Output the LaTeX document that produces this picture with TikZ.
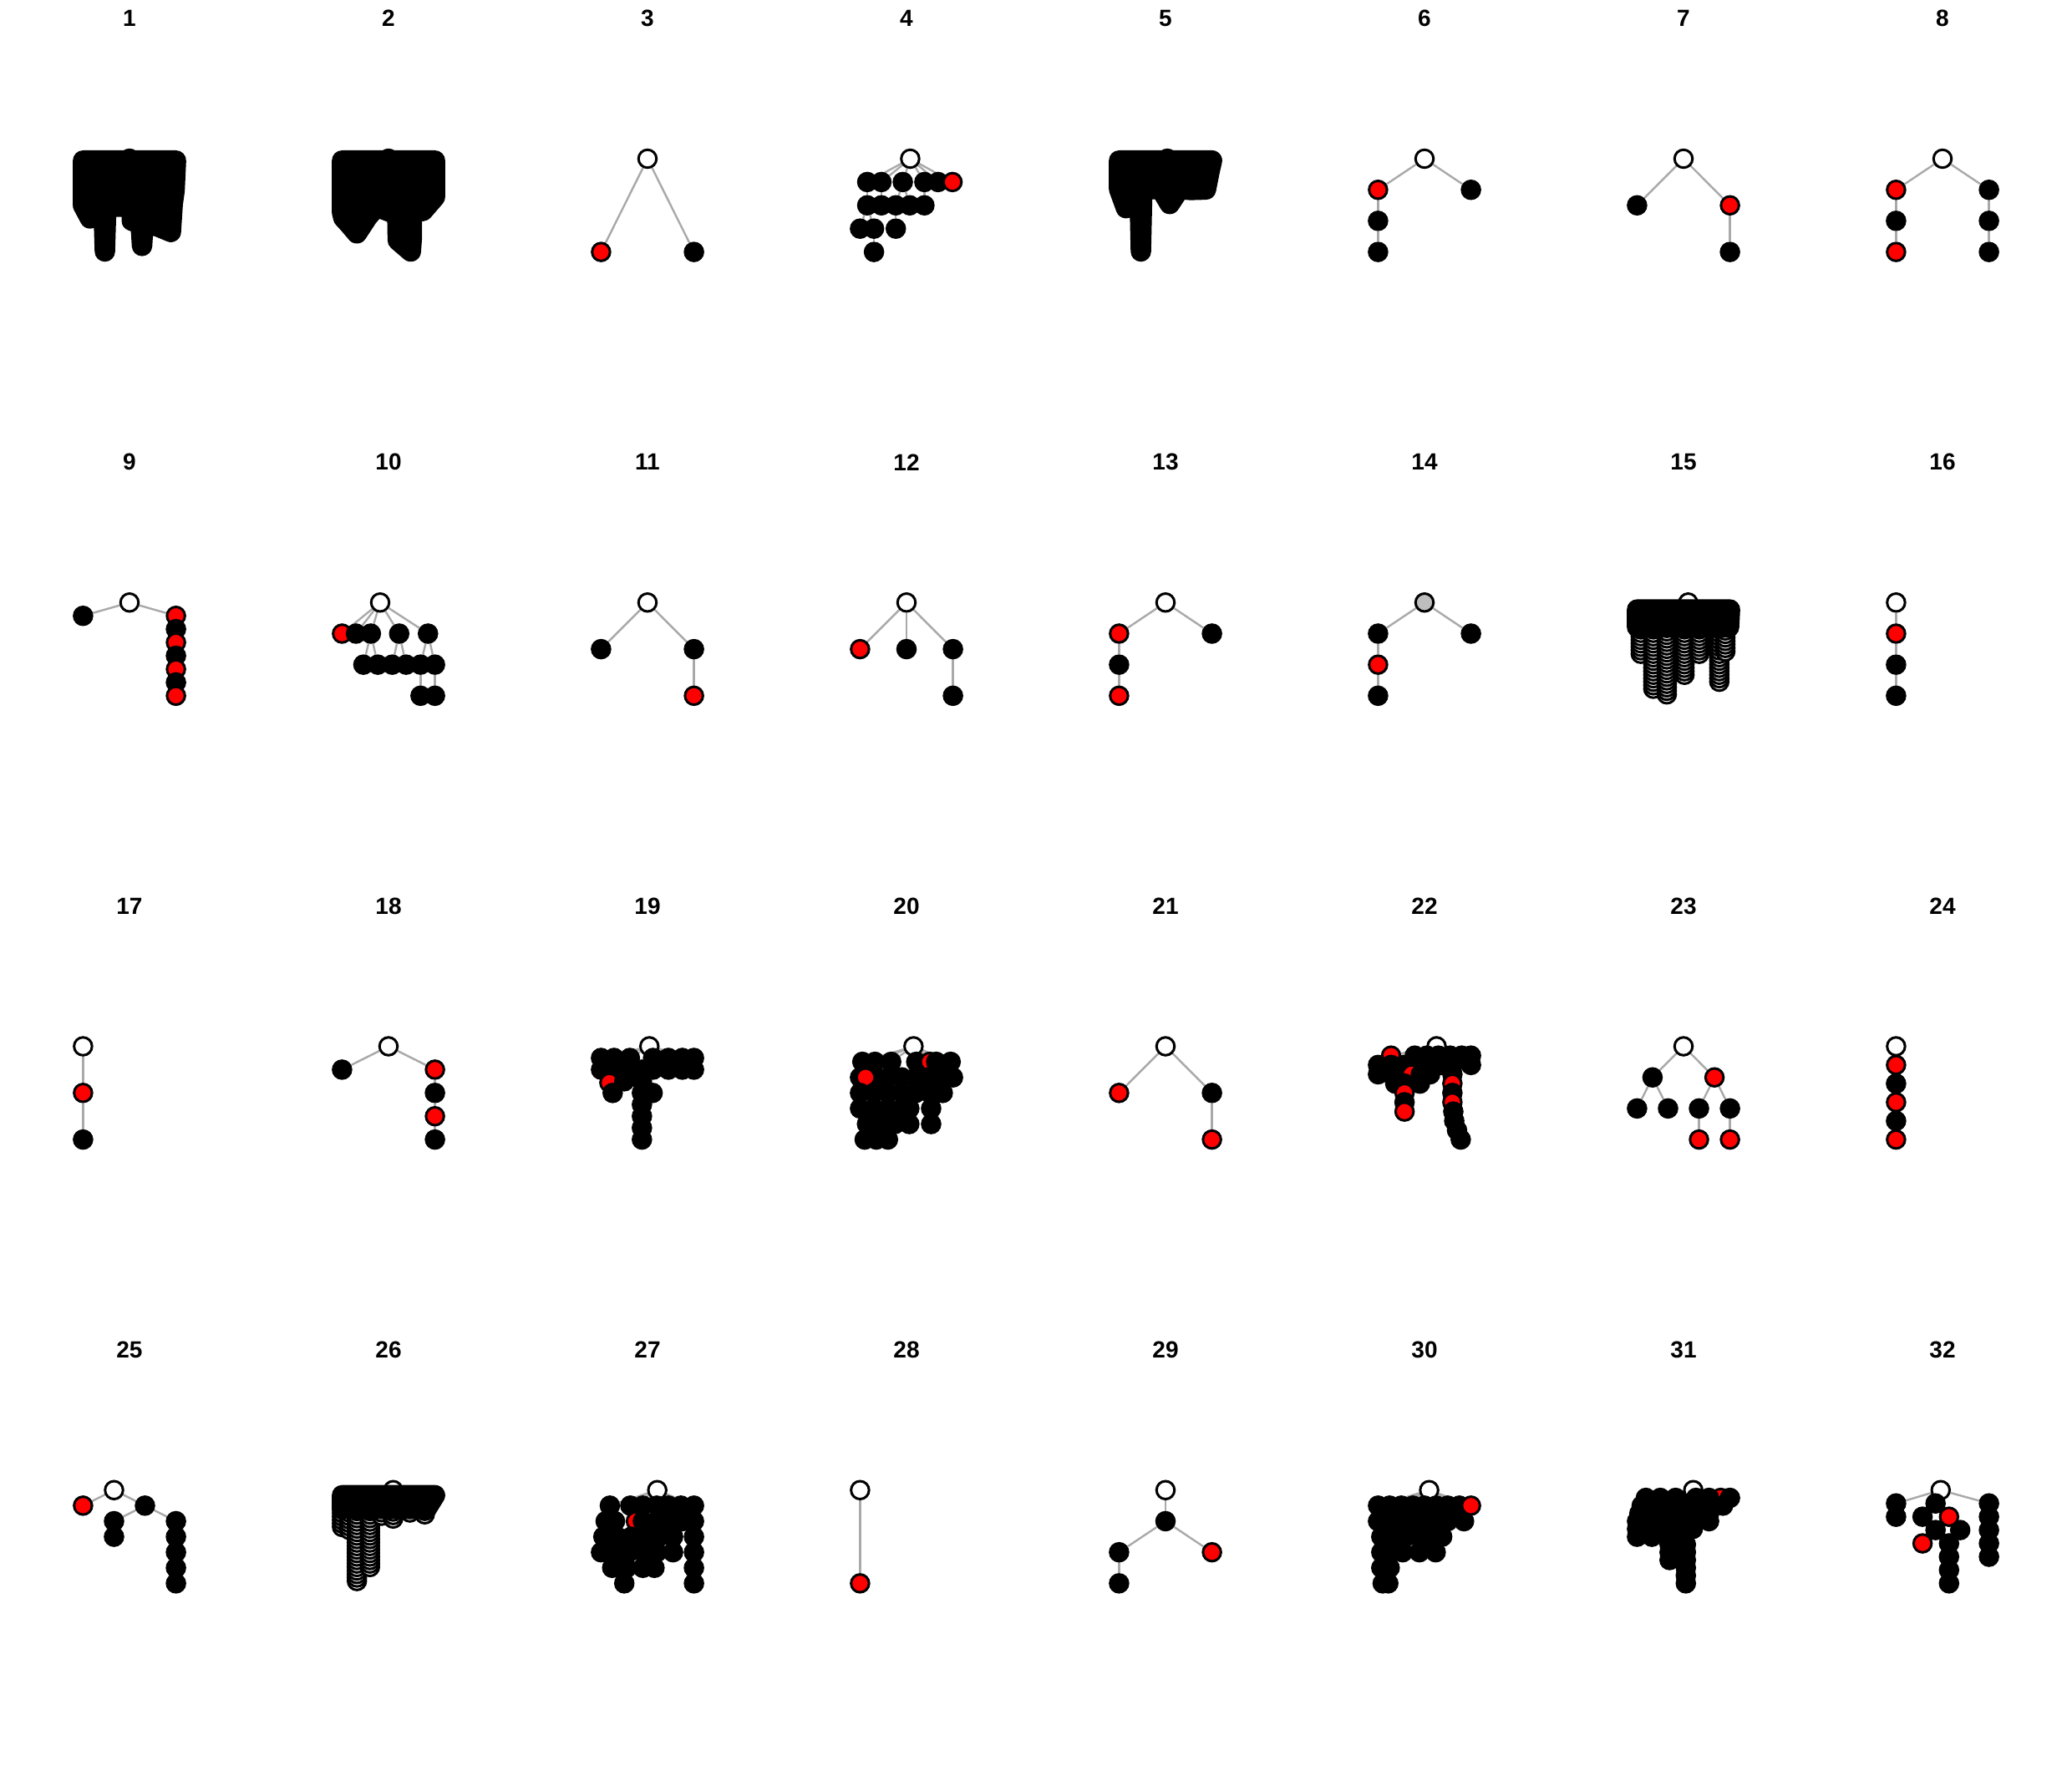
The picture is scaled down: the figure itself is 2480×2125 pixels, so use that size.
\documentclass[tikz,border=0pt]{standalone}
\usepackage{fontspec}
\newfontfamily\ttlfont{Liberation Sans}
\pgfdeclarelayer{bglayer}
\pgfdeclarelayer{edgelayer}
\pgfsetlayers{bglayer,edgelayer,main}
\definecolor{Rred}{HTML}{FF0000}
\definecolor{Rgray}{HTML}{BEBEBE}
\definecolor{Redge}{HTML}{A9A9A9}
\tikzset{
  vtx/.style={circle,draw=black,line width=3pt,inner sep=0pt,minimum size=21.5pt},
  vb/.style={vtx,fill=black},
  vr/.style={vtx,fill=Rred},
  vw/.style={vtx,fill=white},
  vg/.style={vtx,fill=Rgray},
  edg/.style={draw=Redge,line width=2.4pt},
  blobst/.style={fill=black,draw=black,line width=24.5pt,line join=round,line cap=round},
  ttl/.style={font=\ttlfont\bfseries\fontsize{28}{32}\selectfont,inner sep=0pt},
  panel/.style={x=55.6pt,y=55.8pt}
}
\newcount\ringc
\newcommand\vnd[4]{\node[#1] (#2) at (#3,#4) {};}
\newcommand\vrow[4]{\foreach \uu [count=\ii] in {#4} {\node[#1] (#2\ii) at (\uu,#3) {};}}
\newcommand\edgs[1]{\begin{pgfonlayer}{edgelayer}\foreach \ea/\eb in {#1} {\draw[edg] (\ea) -- (\eb);}\end{pgfonlayer}}
\newcommand\vfan[3]{\begin{pgfonlayer}{edgelayer}\foreach \ii in {1,...,#3} {\draw[edg] (#1) -- (#2\ii);}\end{pgfonlayer}}
\newcommand\ringcol[3]{%
  \pgfmathtruncatemacro\rn{round((#3-(#2))/0.075)}%
  \foreach \kk in {0,...,\rn}{%
    \pgfmathsetmacro\vv{#2+\kk*0.075}%
    \global\advance\ringc by 1
    \node[vw] (ring\the\ringc) at (#1,\vv) {};}}
\begin{document}
\begin{tikzpicture}[x=1pt,y=-1pt]
\useasboundingbox (0,0) rectangle (2480,2125);
\begin{pgfonlayer}{bglayer}\fill[white] (0,0) rectangle (2480,2125);\end{pgfonlayer}
% titles
\foreach \n in {1,...,32} {
  \pgfmathsetmacro\cx{155+310*mod(\n-1,8)}
  \pgfmathsetmacro\cy{22+531.25*floor((\n-1)/8)}
  \node[ttl] (t\n) at (\cx,\cy) {\n};
}
% ---------- row 1 ----------
\begin{scope}[shift={(155,245.8)},panel]
\vnd{vw}{p1r}{0}{1}
\filldraw[blobst] (-1,0.96) -- (1,0.96) -- (0.97,0.32) -- (0.93,0.03) -- (0.89,-0.57) -- (0.6,-0.45) -- (0.3,-0.4) -- (0.27,-0.87) -- (0.24,-0.4) -- (0.05,-0.33) -- (0.05,-0.03) -- (-0.5,-0.03) -- (-0.53,-0.99) -- (-0.56,-0.03) -- (-0.75,-0.1) -- (-0.85,-0.28) -- (-1,0.0) -- cycle;
\end{scope}
\begin{scope}[shift={(465,245.8)},panel]
\vnd{vw}{p2r}{0}{1}
\filldraw[blobst] (-1,0.96) -- (1,0.96) -- (1,0.18) -- (0.74,-0.12) -- (0.5,-0.15) -- (0.5,-0.72) -- (0.48,-0.99) -- (0.2,-0.75) -- (0.19,-0.2) -- (-0.26,-0.03) -- (-0.45,-0.25) -- (-0.68,-0.6) -- (-0.85,-0.4) -- (-0.97,-0.27) -- (-1,-0.15) -- cycle;
\end{scope}
\begin{scope}[shift={(775,245.8)},panel]
\vnd{vw}{p3r}{0}{1}
\vnd{vr}{p3a}{-1}{-1}
\vnd{vb}{p3b}{1}{-1}
\edgs{p3r/p3a,p3r/p3b}
\end{scope}
\begin{scope}[shift={(1085,245.8)},panel]
\vnd{vw}{p4r}{0.08}{1}
\vnd{vb}{p4a1}{-0.845}{0.5}
\vnd{vb}{p4a2}{-0.54}{0.5}
\vnd{vb}{p4a3}{-0.08}{0.5}
\vnd{vb}{p4a4}{0.385}{0.5}
\vnd{vb}{p4a5}{0.68}{0.5}
\vnd{vr}{p4a6}{0.99}{0.5}
\vnd{vb}{p4b1}{-0.845}{0}
\vnd{vb}{p4b2}{-0.54}{0}
\vnd{vb}{p4b3}{-0.23}{0}
\vnd{vb}{p4b4}{0.07}{0}
\vnd{vb}{p4b5}{0.385}{0}
\vnd{vb}{p4c1}{-1}{-0.5}
\vnd{vb}{p4c2}{-0.7}{-0.5}
\vnd{vb}{p4c3}{-0.23}{-0.5}
\vnd{vb}{p4d1}{-0.7}{-1}
\edgs{p4r/p4a1,p4r/p4a2,p4r/p4a3,p4r/p4a4,p4r/p4a5,p4r/p4a6,p4a1/p4b1,p4a2/p4b2,p4a3/p4b3,p4a3/p4b4,p4a4/p4b5,p4b1/p4c1,p4b1/p4c2,p4b3/p4c3,p4c2/p4d1}
\end{scope}
\begin{scope}[shift={(1395,245.8)},panel]
\vnd{vw}{p5r}{0.04}{1}
\filldraw[blobst] (-1,0.96) -- (1,0.96) -- (0.95,0.74) -- (0.87,0.34) -- (0.54,0.33) -- (0.3,0.35) -- (0.09,0.03) -- (-0.1,0.35) -- (-0.5,0.35) -- (-0.53,-0.99) -- (-0.56,0.35) -- (-0.7,0.3) -- (-0.85,-0.06) -- (-1,0.35) -- cycle;
\end{scope}
\begin{scope}[shift={(1705,245.8)},panel]
\vnd{vw}{p6r}{0}{1}
\vnd{vr}{p6a}{-1}{0.333}
\vnd{vb}{p6b}{1}{0.333}
\vnd{vb}{p6c}{-1}{-0.333}
\vnd{vb}{p6d}{-1}{-1}
\edgs{p6r/p6a,p6r/p6b,p6a/p6c,p6c/p6d}
\end{scope}
\begin{scope}[shift={(2015,245.8)},panel]
\vnd{vw}{p7r}{0}{1}
\vnd{vb}{p7a}{-1}{0}
\vnd{vr}{p7b}{1}{0}
\vnd{vb}{p7c}{1}{-1}
\edgs{p7r/p7a,p7r/p7b,p7b/p7c}
\end{scope}
\begin{scope}[shift={(2325,245.8)},panel]
\vnd{vw}{p8r}{0}{1}
\vnd{vr}{p8a}{-1}{0.333}
\vnd{vb}{p8c}{-1}{-0.333}
\vnd{vr}{p8e}{-1}{-1}
\vnd{vb}{p8b}{1}{0.333}
\vnd{vb}{p8d}{1}{-0.333}
\vnd{vb}{p8f}{1}{-1}
\edgs{p8r/p8a,p8a/p8c,p8c/p8e,p8r/p8b,p8b/p8d,p8d/p8f}
\end{scope}
% ---------- row 2 ----------
\begin{scope}[shift={(155,777.05)},panel]
\vnd{vw}{p9r}{0}{1}
\vnd{vb}{p9a}{-1}{0.714}
\vnd{vr}{p9b1}{1}{0.714}
\vnd{vb}{p9b2}{1}{0.429}
\vnd{vr}{p9b3}{1}{0.143}
\vnd{vb}{p9b4}{1}{-0.143}
\vnd{vr}{p9b5}{1}{-0.429}
\vnd{vb}{p9b6}{1}{-0.714}
\vnd{vr}{p9b7}{1}{-1}
\edgs{p9r/p9a,p9r/p9b1,p9b1/p9b2,p9b2/p9b3,p9b3/p9b4,p9b4/p9b5,p9b5/p9b6,p9b6/p9b7}
\end{scope}
\begin{scope}[shift={(465,777.05)},panel]
\vnd{vw}{p10r}{-0.18}{1}
\vnd{vr}{p10a}{-1}{0.333}
\vnd{vb}{p10b}{-0.7}{0.333}
\vnd{vb}{p10c}{-0.38}{0.333}
\vnd{vb}{p10d}{0.23}{0.333}
\vnd{vb}{p10e}{0.85}{0.333}
\vnd{vb}{p10f}{-0.54}{-0.333}
\vnd{vb}{p10g}{-0.23}{-0.333}
\vnd{vb}{p10h}{0.08}{-0.333}
\vnd{vb}{p10i}{0.38}{-0.333}
\vnd{vb}{p10j}{0.69}{-0.333}
\vnd{vb}{p10k}{1}{-0.333}
\vnd{vb}{p10l}{0.69}{-1}
\vnd{vb}{p10m}{1}{-1}
\edgs{p10r/p10a,p10r/p10b,p10r/p10c,p10r/p10d,p10r/p10e,p10c/p10f,p10c/p10g,p10d/p10h,p10d/p10i,p10e/p10j,p10e/p10k,p10j/p10l,p10k/p10m}
\end{scope}
\begin{scope}[shift={(775,777.05)},panel]
\vnd{vw}{p11r}{0}{1}
\vnd{vb}{p11a}{-1}{0}
\vnd{vb}{p11b}{1}{0}
\vnd{vr}{p11c}{1}{-1}
\edgs{p11r/p11a,p11r/p11b,p11b/p11c}
\end{scope}
\begin{scope}[shift={(1085,777.05)},panel]
\vnd{vw}{p12r}{0}{1}
\vnd{vr}{p12a}{-1}{0}
\vnd{vb}{p12b}{0}{0}
\vnd{vb}{p12c}{1}{0}
\vnd{vb}{p12d}{1}{-1}
\edgs{p12r/p12a,p12r/p12b,p12r/p12c,p12c/p12d}
\end{scope}
\begin{scope}[shift={(1395,777.05)},panel]
\vnd{vw}{p13r}{0}{1}
\vnd{vr}{p13a}{-1}{0.333}
\vnd{vb}{p13b}{1}{0.333}
\vnd{vb}{p13c}{-1}{-0.333}
\vnd{vr}{p13d}{-1}{-1}
\edgs{p13r/p13a,p13r/p13b,p13a/p13c,p13c/p13d}
\end{scope}
\begin{scope}[shift={(1705,777.05)},panel]
\vnd{vg}{p14r}{0}{1}
\vnd{vb}{p14a}{-1}{0.333}
\vnd{vb}{p14b}{1}{0.333}
\vnd{vr}{p14c}{-1}{-0.333}
\vnd{vb}{p14d}{-1}{-1}
\edgs{p14r/p14a,p14r/p14b,p14a/p14c,p14c/p14d}
\end{scope}
\begin{scope}[shift={(2015,777.05)},panel]
\vnd{vw}{p15r}{0.1}{1}
\ringcol{-0.92}{-0.1}{0.5}
\ringcol{-0.65}{-0.85}{0.5}
\ringcol{-0.36}{-0.97}{0.5}
\ringcol{0.02}{-0.55}{0.5}
\ringcol{0.34}{-0.1}{0.5}
\ringcol{0.77}{-0.7}{0.5}
\ringcol{0.9}{-0.05}{0.5}
\filldraw[blobst] (-1,0.85) -- (1,0.85) -- (0.98,0.47) -- (-1,0.47) -- cycle;
\end{scope}
\begin{scope}[shift={(2325,777.05)},panel]
\vnd{vw}{p16r}{-1}{1}
\vnd{vr}{p16a}{-1}{0.333}
\vnd{vb}{p16b}{-1}{-0.333}
\vnd{vb}{p16c}{-1}{-1}
\edgs{p16r/p16a,p16a/p16b,p16b/p16c}
\end{scope}
% ---------- row 3 ----------
\begin{scope}[shift={(155,1308.3)},panel]
\vnd{vw}{p17r}{-1}{1}
\vnd{vr}{p17a}{-1}{0}
\vnd{vb}{p17b}{-1}{-1}
\edgs{p17r/p17a,p17a/p17b}
\end{scope}
\begin{scope}[shift={(465,1308.3)},panel]
\vnd{vw}{p18r}{0}{1}
\vnd{vb}{p18a}{-1}{0.5}
\vnd{vr}{p18b}{1}{0.5}
\vnd{vb}{p18c}{1}{0}
\vnd{vr}{p18d}{1}{-0.5}
\vnd{vb}{p18e}{1}{-1}
\edgs{p18r/p18a,p18r/p18b,p18b/p18c,p18c/p18d,p18d/p18e}
\end{scope}
\begin{scope}[shift={(775,1308.3)},panel]
\vnd{vw}{p19r}{0.04}{1}
\vrow{vb}{p19a}{0.75}{-1.0,-0.72,-0.38,0.12,0.45,0.75,1.0}
\vrow{vb}{p19b}{0.5}{-1.0,-0.72,-0.38,-0.12,0.12,0.45,0.75,1.0}
\vnd{vr}{p19c0}{-0.82}{0.22}
\vrow{vb}{p19c}{0.25}{-0.5,-0.12}
\vrow{vb}{p19d}{0}{-0.75,-0.12,0.11}
\vrow{vb}{p19e}{-0.25}{-0.12}
\vrow{vb}{p19f}{-0.5}{-0.12}
\vrow{vb}{p19g}{-0.75}{-0.12}
\vrow{vb}{p19h}{-1}{-0.12}
\vfan{p19r}{p19a}{7}
\end{scope}
\begin{scope}[shift={(1085,1308.3)},panel]
\vnd{vw}{p20r}{0.15}{1}
\vrow{vb}{p20a}{0.667}{-0.95,-0.68,-0.33,0.21}
\vnd{vr}{p20a5}{0.5}{0.667}
\vrow{vb}{p20x}{0.667}{0.64,0.95}
\vrow{vb}{p20b}{0.333}{-1.0,-0.68,-0.4,-0.1,0.2,0.45,0.7,1.0}
\vnd{vr}{p20b0}{-0.88}{0.333}
\vrow{vb}{p20c}{0}{-1.0,-0.7,-0.4,-0.1,0.2,0.5,0.78}
\vrow{vb}{p20d}{-0.333}{-1.0,-0.7,-0.4,-0.1,0.06,0.53}
\vrow{vb}{p20e}{-0.667}{-0.85,-0.55,-0.25,0.06,0.53}
\vrow{vb}{p20f}{-1}{-0.9,-0.65,-0.4}
\vfan{p20r}{p20a}{5}
\vfan{p20r}{p20x}{2}
\end{scope}
\begin{scope}[shift={(1395,1308.3)},panel]
\vnd{vw}{p21r}{0}{1}
\vnd{vr}{p21a}{-1}{0}
\vnd{vb}{p21b}{1}{0}
\vnd{vr}{p21c}{1}{-1}
\edgs{p21r/p21a,p21r/p21b,p21b/p21c}
\end{scope}
\begin{scope}[shift={(1705,1308.3)},panel]
\vnd{vw}{p22r}{0.26}{1}
\vnd{vr}{p22a0}{-0.72}{0.8}
\vrow{vb}{p22a}{0.8}{-0.21,0.05,0.3,0.55,0.8,1.0}
\vrow{vb}{p22b}{0.6}{-1.0,-0.72,-0.45,-0.2,0.1,0.35,0.6,1.0}
\vnd{vr}{p22c0}{-0.28}{0.4}
\vrow{vb}{p22c}{0.4}{-1.0,-0.72,-0.08,0.12,0.6}
\vnd{vr}{p22d0}{0.6}{0.2}
\vrow{vb}{p22d}{0.2}{-0.63,-0.43,-0.1}
\vnd{vr}{p22e0}{-0.43}{0}
\vrow{vb}{p22e}{0}{0.6}
\vnd{vr}{p22f0}{0.6}{-0.2}
\vrow{vb}{p22f}{-0.2}{-0.43}
\vrow{vb}{p22g}{-0.4}{0.62}
\vnd{vr}{p22g0}{-0.43}{-0.4}
\vrow{vb}{p22h}{-0.6}{0.64}
\vrow{vb}{p22i}{-0.8}{0.7}
\vrow{vb}{p22j}{-1}{0.78}
\edgs{p22r/p22a0}
\vfan{p22r}{p22a}{6}
\end{scope}
\begin{scope}[shift={(2015,1308.3)},panel]
\vnd{vw}{p23r}{0}{1}
\vnd{vb}{p23a}{-0.667}{0.333}
\vnd{vr}{p23b}{0.667}{0.333}
\vnd{vb}{p23c}{-1}{-0.333}
\vnd{vb}{p23d}{-0.333}{-0.333}
\vnd{vb}{p23e}{0.333}{-0.333}
\vnd{vb}{p23f}{1}{-0.333}
\vnd{vr}{p23g}{0.333}{-1}
\vnd{vr}{p23h}{1}{-1}
\edgs{p23r/p23a,p23r/p23b,p23a/p23c,p23a/p23d,p23b/p23e,p23b/p23f,p23e/p23g,p23f/p23h}
\end{scope}
\begin{scope}[shift={(2325,1308.3)},panel]
\vnd{vw}{p24r}{-1}{1}
\vnd{vr}{p24a}{-1}{0.6}
\vnd{vb}{p24b}{-1}{0.2}
\vnd{vr}{p24c}{-1}{-0.2}
\vnd{vb}{p24d}{-1}{-0.6}
\vnd{vr}{p24e}{-1}{-1}
\edgs{p24r/p24a,p24a/p24b,p24b/p24c,p24c/p24d,p24d/p24e}
\end{scope}
% ---------- row 4 ----------
\begin{scope}[shift={(155,1839.55)},panel]
\vnd{vw}{p25r}{-0.333}{1}
\vnd{vr}{p25a}{-1}{0.667}
\vnd{vb}{p25b}{0.333}{0.667}
\vnd{vb}{p25c}{-0.333}{0.333}
\vnd{vb}{p25d}{-0.333}{0}
\vnd{vb}{p25e}{1}{0.333}
\vnd{vb}{p25f}{1}{0}
\vnd{vb}{p25g}{1}{-0.333}
\vnd{vb}{p25h}{1}{-0.667}
\vnd{vb}{p25i}{1}{-1}
\edgs{p25r/p25a,p25r/p25b,p25b/p25c,p25b/p25e,p25c/p25d,p25e/p25f,p25f/p25g,p25g/p25h,p25h/p25i}
\end{scope}
\begin{scope}[shift={(465,1839.55)},panel]
\vnd{vw}{p26r}{0.1}{1}
\ringcol{-1.0}{0.21}{0.6}
\ringcol{-0.85}{0.15}{0.6}
\ringcol{-0.68}{-0.95}{0.6}
\ringcol{-0.4}{-0.65}{0.6}
\ringcol{-0.15}{0.45}{0.6}
\ringcol{0.1}{0.39}{0.6}
\ringcol{0.46}{0.52}{0.6}
\ringcol{0.78}{0.48}{0.6}
\filldraw[blobst] (-1,0.89) -- (1,0.89) -- (0.82,0.6) -- (-1,0.6) -- cycle;
\end{scope}
\begin{scope}[shift={(775,1839.55)},panel]
\vnd{vw}{p27r}{0.21}{1}
\vrow{vb}{p27a}{0.667}{-0.81,-0.37,-0.1,0.2,0.45,0.72,1.0}
\vnd{vr}{p27b0}{-0.25}{0.333}
\vrow{vb}{p27b}{0.333}{-0.9,-0.7,-0.1,0.2,0.45,0.75,1.0}
\vrow{vb}{p27c}{0}{-0.95,-0.65,-0.35,-0.05,0.25,0.55,1.0}
\vrow{vb}{p27d}{-0.333}{-1.0,-0.7,-0.4,-0.1,0.2,0.55,1.0}
\vrow{vb}{p27e}{-0.667}{-0.76,-0.45,-0.1,0.15,1.0}
\vrow{vb}{p27f}{-1}{-0.5,1.0}
\vfan{p27r}{p27a}{7}
\end{scope}
\begin{scope}[shift={(1085,1839.55)},panel]
\vnd{vw}{p28r}{-1}{1}
\vnd{vr}{p28a}{-1}{-1}
\edgs{p28r/p28a}
\end{scope}
\begin{scope}[shift={(1395,1839.55)},panel]
\vnd{vw}{p29r}{0}{1}
\vnd{vb}{p29a}{0}{0.333}
\vnd{vb}{p29b}{-1}{-0.333}
\vnd{vr}{p29c}{1}{-0.333}
\vnd{vb}{p29d}{-1}{-1}
\edgs{p29r/p29a,p29a/p29b,p29a/p29c,p29b/p29d}
\end{scope}
\begin{scope}[shift={(1705,1839.55)},panel]
\vnd{vw}{p30r}{0.1}{1}
\vrow{vb}{p30a}{0.667}{-1.0,-0.75,-0.5,-0.25,0.0,0.25,0.5,0.75}
\vrow{vb}{p30b}{0.333}{-1.0,-0.75,-0.5,-0.25,0.0,0.25,0.5,0.85}
\vnd{vr}{p30a9}{1}{0.667}
\vrow{vb}{p30c}{0}{-0.93,-0.65,-0.4,-0.1,0.15,0.38}
\vrow{vb}{p30d}{-0.333}{-0.93,-0.7,-0.47,-0.11,0.24}
\vrow{vb}{p30e}{-0.667}{-0.93,-0.75}
\vrow{vb}{p30f}{-1}{-0.9,-0.78}
\vfan{p30r}{p30a}{9}
\end{scope}
\begin{scope}[shift={(2015,1839.55)},panel]
\vnd{vw}{p31r}{0.21}{1}
\vnd{vr}{p31a0}{0.8}{0.833}
\vrow{vb}{p31a}{0.833}{-0.81,-0.5,-0.17,0.27,0.55,1.0}
\vrow{vb}{p31b}{0.667}{-0.9,-0.6,-0.3,0.0,0.3,0.6,0.85}
\vrow{vb}{p31c}{0.5}{-0.95,-0.65,-0.35,0.0,0.3,0.55}
\vrow{vb}{p31d}{0.333}{-1.0,-0.7,-0.4,-0.1,0.2,0.55}
\vrow{vb}{p31e}{0.167}{-1.0,-0.7,-0.35,-0.05,0.2}
\vrow{vb}{p31f}{0}{-1.0,-0.68,-0.3,0.0}
\vrow{vb}{p31g}{-0.167}{-0.3,0.05}
\vrow{vb}{p31h}{-0.333}{-0.3,0.05}
\vrow{vb}{p31i}{-0.5}{-0.3,0.05}
\vrow{vb}{p31j}{-0.667}{0.05}
\vrow{vb}{p31k}{-0.833}{0.05}
\vrow{vb}{p31l}{-1}{0.05}
\edgs{p31r/p31a0}
\vfan{p31r}{p31a}{6}
\end{scope}
\begin{scope}[shift={(2325,1839.55)},panel]
\vnd{vw}{p32r}{-0.04}{1}
\vnd{vb}{p32a1}{-1}{0.714}
\vnd{vb}{p32a2}{-1}{0.429}
\vnd{vb}{p32m1}{-0.15}{0.714}
\vnd{vb}{p32m2}{-0.43}{0.429}
\vnd{vb}{p32m4}{-0.15}{0.143}
\vnd{vb}{p32m5}{0.38}{0.143}
\vnd{vb}{p32m7}{0.14}{-0.143}
\vnd{vb}{p32m8}{0.14}{-0.429}
\vnd{vb}{p32m9}{0.14}{-0.714}
\vnd{vb}{p32m10}{0.14}{-1}
\vnd{vr}{p32m3}{0.14}{0.429}
\vnd{vr}{p32m6}{-0.43}{-0.143}
\vnd{vb}{p32z1}{1}{0.714}
\vnd{vb}{p32z2}{1}{0.429}
\vnd{vb}{p32z3}{1}{0.143}
\vnd{vb}{p32z4}{1}{-0.143}
\vnd{vb}{p32z5}{1}{-0.429}
\edgs{p32r/p32a1,p32r/p32m1,p32r/p32z1,p32a1/p32a2,p32m1/p32m2,p32m1/p32m3,p32m2/p32m4,p32m3/p32m5,p32m4/p32m6,p32m4/p32m7,p32m7/p32m8,p32m8/p32m9,p32m9/p32m10,p32z1/p32z2,p32z2/p32z3,p32z3/p32z4,p32z4/p32z5}
\end{scope}
\end{tikzpicture}
\end{document}
